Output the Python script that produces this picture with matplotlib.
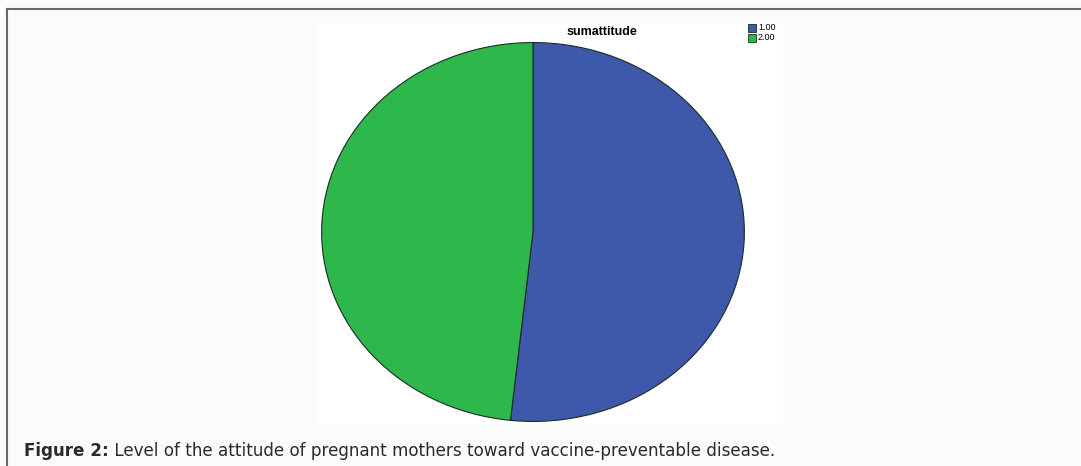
import matplotlib.pyplot as plt
from matplotlib.patches import Rectangle
from matplotlib.lines import Line2D

plt.rcParams['font.family'] = ['Liberation Sans', 'DejaVu Sans']

# data
labels = ['1.00', '2.00']
shares = [51.7, 48.3]
colors = ['#3e58aa', '#2eb84b']
chart_title = 'sumattitude'
caption_bold = 'Figure 2:'
caption_text = ' Level of the attitude of pregnant mothers toward vaccine-preventable disease.'

W, H = 1081, 466
fig = plt.figure(figsize=(W / 100, H / 100), dpi=100)
fig.patch.set_facecolor('#fcfbfb')


def box(x0, y0, x1, y1):
    # pixel box (top-left origin) -> figure fraction rect
    return [x0 / W, 1 - y1 / H, (x1 - x0) / W, (y1 - y0) / H]


# outer frame lines (top and left)
fig.add_artist(Line2D([7 / W, 1], [1 - 9 / H, 1 - 9 / H], color='#6a6766', lw=1.5))
fig.add_artist(Line2D([7 / W, 7 / W], [1 - 9 / H, 0], color='#6a6766', lw=1.5))

# white chart panel
panel = fig.add_axes(box(317, 24, 783, 425))
panel.set_facecolor('white')
panel.set_xticks([])
panel.set_yticks([])
for s in panel.spines.values():
    s.set_visible(False)

# pie as ellipse
ax = fig.add_axes(box(321, 42, 745, 422))
ax.pie(shares, colors=colors, startangle=90, counterclock=False,
       wedgeprops=dict(edgecolor='#1a2a2a', linewidth=0.8))
ax.set_aspect('auto')
ax.set_xlim(-1.003, 1.003)
ax.set_ylim(-1.003, 1.003)
ax.axis('off')

fig.text(602 / W, 1 - 32 / H, chart_title, ha='center', va='center',
         fontsize=9, fontweight='bold')

# legend
for i, (lab, col) in enumerate(zip(labels, colors)):
    y = 28 + i * 10
    fig.add_artist(Rectangle((748 / W, 1 - (y + 4) / H), 8 / W, 8 / H,
                             facecolor=col, edgecolor='#1a2a2a', lw=0.6))
    fig.text(758 / W, 1 - y / H, lab, ha='left', va='center', fontsize=6.5)

# caption
cap_font = ['DejaVu Sans']
t = fig.text(24 / W, 1 - 456 / H, caption_bold, ha='left', va='baseline',
             fontsize=12.1, fontweight='bold', color='#2a2a2a', family=cap_font)
fig.canvas.draw()
bb = t.get_window_extent()
fig.text(bb.x1 / W, 1 - 456 / H, caption_text, ha='left', va='baseline',
         fontsize=12.1, color='#2a2a2a', family=cap_font)

fig.savefig('out.png', dpi=100, facecolor=fig.get_facecolor())
